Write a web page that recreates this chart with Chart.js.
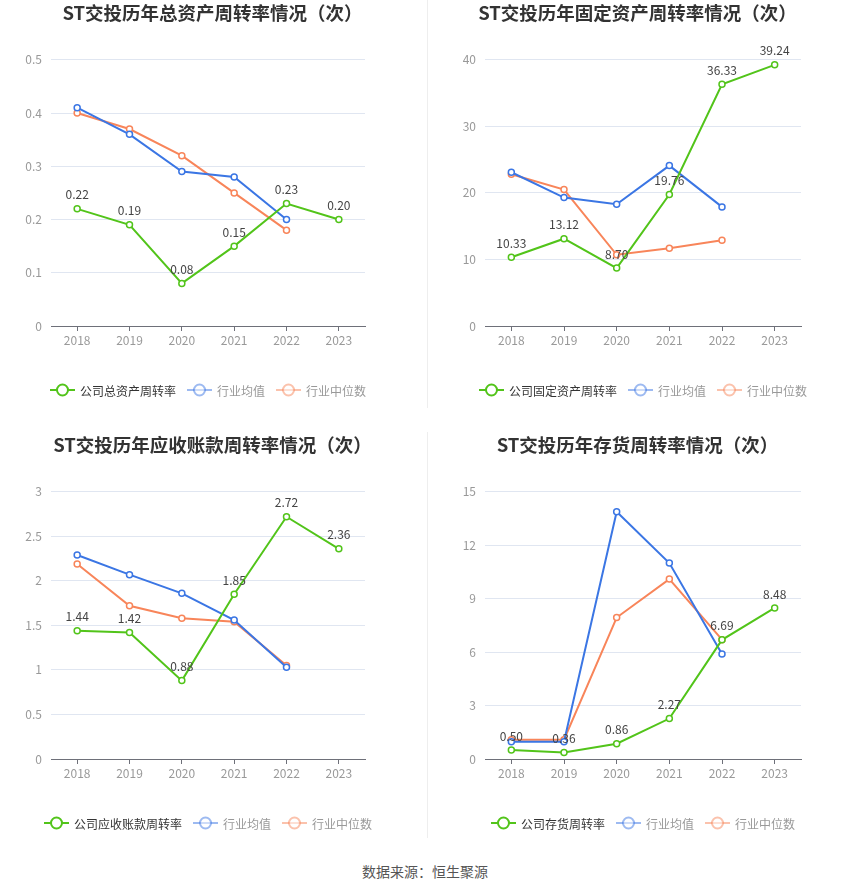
<!DOCTYPE html>
<html>
<head>
<meta charset="utf-8">
<script src="https://cdn.jsdelivr.net/npm/chart.js@4.4.0/dist/chart.umd.min.js"></script>
<style>
body{margin:0;background:#fff;width:850px;height:891px;position:relative;overflow:hidden;font-family:"Noto Sans CJK SC",sans-serif}
.box{position:absolute;width:425px;height:410px}
.sep{position:absolute;left:427px;width:1px;background:#eeeeee}
#src{position:absolute;top:861px;left:0;width:850px;text-align:center;font-size:14px;color:#555}
</style>
</head>
<body>
<div class="sep" style="top:0;height:408px"></div>
<div class="sep" style="top:432px;height:406px"></div>
<div class="box" style="left:0;top:0"><canvas id="c1"></canvas></div>
<div class="box" style="left:425px;top:0"><canvas id="c2"></canvas></div>
<div class="box" style="left:0;top:430px"><canvas id="c3"></canvas></div>
<div class="box" style="left:425px;top:430px"><canvas id="c4"></canvas></div>
<div id="src">数据来源：恒生聚源</div>
<script>
const years = ['2018', '2019', '2020', '2021', '2022', '2023'];

// 总资产周转率
const totalAssetCo = [0.22, 0.19, 0.08, 0.15, 0.23, 0.20];
const totalAssetAvg = [0.41, 0.36, 0.29, 0.28, 0.20];
const totalAssetMed = [0.40, 0.37, 0.32, 0.25, 0.18];

// 固定资产周转率
const fixedAssetCo = [10.33, 13.12, 8.70, 19.76, 36.33, 39.24];
const fixedAssetAvg = [23.1, 19.3, 18.3, 24.1, 17.9];
const fixedAssetMed = [22.8, 20.5, 10.7, 11.7, 12.9];

// 应收账款周转率
const receivCo = [1.44, 1.42, 0.88, 1.85, 2.72, 2.36];
const receivAvg = [2.29, 2.07, 1.86, 1.56, 1.03];
const receivMed = [2.19, 1.72, 1.58, 1.54, 1.05];

// 存货周转率
const invCo = [0.50, 0.36, 0.86, 2.27, 6.69, 8.48];
const invAvg = [0.97, 0.97, 13.88, 11.0, 5.9];
const invMed = [1.08, 1.08, 7.94, 10.1, 6.7];

const GREEN = '#52c41a';
const BLUE = '#3b76e4';
const ORANGE = '#f8855a';
const FONT = '"Noto Sans CJK SC", sans-serif';

// value labels above the company series
const valueLabels = {
  id: 'valueLabels',
  afterDatasetsDraw(chart) {
    const ctx = chart.ctx;
    const meta = chart.getDatasetMeta(0);
    const vals = chart.data.datasets[0].data;
    ctx.save();
    ctx.font = '12px ' + FONT;
    ctx.fillStyle = '#444';
    ctx.textAlign = 'center';
    ctx.textBaseline = 'middle';
    meta.data.forEach((pt, i) => {
      ctx.fillText(vals[i].toFixed(2), pt.x, pt.y - 14);
    });
    ctx.restore();
  }
};

// legend: line through a hollow circle, centred under the plot
const lineLegend = {
  id: 'lineLegend',
  afterDraw(chart, args, opts) {
    const ctx = chart.ctx;
    const a = chart.chartArea;
    ctx.save();
    ctx.font = '12px ' + FONT;
    const items = chart.data.datasets.map((ds, i) => ({
      text: ds.label, color: ds.borderColor, i,
      w: 30 + ctx.measureText(ds.label).width
    }));
    const gap = 11;
    const total = items.reduce((s, it) => s + it.w, 0) + gap * (items.length - 1);
    let x = (a.left + a.right) / 2 - total / 2;
    const y = opts.y;
    items.forEach(it => {
      ctx.globalAlpha = it.i === 0 ? 1 : 0.5;
      ctx.strokeStyle = it.color;
      ctx.lineWidth = 2;
      ctx.beginPath();
      ctx.moveTo(x, y);
      ctx.lineTo(x + 25, y);
      ctx.stroke();
      ctx.beginPath();
      ctx.arc(x + 12.5, y, 5.5, 0, Math.PI * 2);
      ctx.fillStyle = '#fff';
      ctx.fill();
      ctx.stroke();
      ctx.globalAlpha = 1;
      ctx.fillStyle = it.i === 0 ? '#333' : '#999';
      ctx.textBaseline = 'middle';
      ctx.textAlign = 'left';
      ctx.fillText(it.text, x + 30, y + 1);
      x += it.w + gap;
    });
    ctx.restore();
  }
};

function series(label, data, color) {
  return {
    label: label,
    data: data,
    borderColor: color,
    backgroundColor: '#fff',
    borderWidth: 2,
    pointRadius: 3,
    pointBorderWidth: 1.5,
    pointBackgroundColor: '#fff',
    pointBorderColor: color,
    tension: 0
  };
}

function makeChart(id, title, coLabel, co, avg, med, yMax, yStep, left, right, top, bottomSpace, legendY) {
  new Chart(document.getElementById(id), {
    type: 'line',
    data: {
      labels: years,
      datasets: [
        series(coLabel, co, GREEN),
        series('行业均值', avg, BLUE),
        series('行业中位数', med, ORANGE)
      ]
    },
    options: {
      responsive: true,
      maintainAspectRatio: false,
      animation: false,
      layout: { padding: 0 },
      plugins: {
        legend: { display: false },
        tooltip: { enabled: false },
        title: {
          display: true,
          text: title,
          color: '#333',
          font: { family: FONT, size: 18.5, weight: 'bold' },
          padding: { top: top, bottom: 35.6 }
        },
        lineLegend: { y: legendY }
      },
      scales: {
        x: {
          offset: true,
          grid: { display: true, drawOnChartArea: false, drawTicks: true, tickLength: 5, color: '#6e7079', offset: false },
          border: { display: true, color: '#6e7079' },
          ticks: { color: '#999', font: { family: FONT, size: 12 }, padding: 2 },
          afterFit: s => { s.height = bottomSpace; }
        },
        y: {
          min: 0,
          max: yMax,
          ticks: {
            stepSize: yStep,
            color: '#999',
            font: { family: FONT, size: 12 },
            padding: 9,
            callback: v => String(+v.toFixed(2))
          },
          grid: {
            drawTicks: false,
            color: ctx => ctx.tick && ctx.tick.value === 0 ? 'rgba(0,0,0,0)' : '#e0e6f1'
          },
          border: { display: false },
          afterFit: s => { s.width = left; }
        },
        yR: {
          position: 'right',
          display: true,
          grid: { display: false },
          border: { display: false },
          ticks: { display: false },
          afterFit: s => { s.width = 425 - right; }
        }
      }
    },
    plugins: [valueLabels, lineLegend]
  });
}

makeChart('c1', 'ST交投历年总资产周转率情况（次）', '公司总资产周转率',
  totalAssetCo, totalAssetAvg, totalAssetMed, 0.5, 0.1, 51, 365, 2, 84, 390);
makeChart('c2', 'ST交投历年固定资产周转率情况（次）', '公司固定资产周转率',
  fixedAssetCo, fixedAssetAvg, fixedAssetMed, 40, 10, 60, 376, 2, 84, 390);
makeChart('c3', 'ST交投历年应收账款周转率情况（次）', '公司应收账款周转率',
  receivCo, receivAvg, receivMed, 3, 0.5, 51, 365, 4, 81, 393);
makeChart('c4', 'ST交投历年存货周转率情况（次）', '公司存货周转率',
  invCo, invAvg, invMed, 15, 3, 60, 376, 4, 81, 393);
</script>
</body>
</html>
